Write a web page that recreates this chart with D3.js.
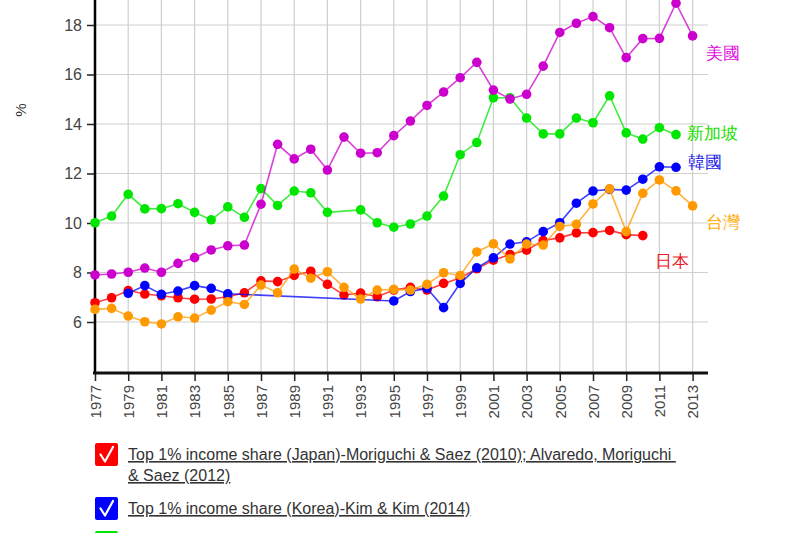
<!DOCTYPE html>
<html><head><meta charset="utf-8">
<script src="https://cdn.jsdelivr.net/npm/d3@7"></script>
<style>
body{margin:0;background:#fff;overflow:hidden;}
text{font-family:"Liberation Sans",Arial,sans-serif;}
</style>
</head><body>
<svg id="chart" width="800" height="533"></svg>
<script>
// ---- data ----
const yearsJapan = d3.range(1977, 2011);
const japan = [6.78,6.98,7.27,7.13,7.06,6.98,6.92,6.93,7.02,7.18,7.66,7.63,7.88,8.05,7.52,7.09,7.17,7.02,7.29,7.40,7.29,7.56,7.78,8.15,8.50,8.73,8.90,9.29,9.40,9.60,9.61,9.70,9.53,9.49];
const yearsKorea = d3.range(1977, 2013);
const korea = [null,null,7.16,7.47,7.12,7.25,7.47,7.36,7.14,null,null,null,null,null,null,null,null,null,6.85,7.23,7.36,6.58,7.56,8.19,8.59,9.15,9.24,9.65,10.01,10.80,11.29,11.36,11.33,11.77,12.27,12.25];
const yearsSingapore = d3.range(1977, 2013);
const singapore = [10.01,10.28,11.16,10.57,10.58,10.78,10.43,10.13,10.65,10.23,11.39,10.71,11.29,11.22,10.43,null,10.53,10.01,9.83,9.96,10.28,11.09,12.76,13.25,15.06,15.06,14.24,13.60,13.60,14.24,14.05,15.14,13.64,13.39,13.85,13.57];
const yearsUS = d3.range(1977, 2014);
const us = [7.90,7.94,8.01,8.18,8.01,8.37,8.60,8.91,9.08,9.11,10.76,13.18,12.59,12.98,12.14,13.47,12.82,12.84,13.53,14.12,14.75,15.29,15.87,16.49,15.37,15.01,15.20,16.34,17.70,18.07,18.34,17.89,16.68,17.45,17.46,18.88,17.56];
const yearsTaiwan = d3.range(1977, 2014);
const taiwan = [6.51,6.55,6.24,6.01,5.92,6.21,6.16,6.48,6.82,6.71,7.49,7.18,8.14,7.77,8.03,7.40,6.93,7.29,7.32,7.29,7.52,7.99,7.88,8.83,9.16,8.55,9.15,9.11,9.86,9.95,10.77,11.38,9.65,11.20,11.74,11.30,10.69];

const seriesNames = ["日本","韓國","新加坡","美國","台灣"];
const legendTexts = [
  ["Top 1% income share (Japan)-Moriguchi & Saez (2010); Alvaredo, Moriguchi ", "& Saez (2012)"],
  ["Top 1% income share (Korea)-Kim & Kim (2014)"],
  []
];
const xTickYears = d3.range(1977, 2014, 2);
const yTickValues = [6, 8, 10, 12, 14, 16, 18];

// ---- layout / style ----
const colors = ["#ff0000", "#0000ff", "#00e600", "#cc00cc", "#ff9900"];
const labelColors = ["#e8202a", "#1a1ae6", "#22dd00", "#dd11dd", "#ffaa00"];
const labelOffsets = [[12, 25], [12, -5], [11, -2], [13, 17], [13, 16]];

const svg = d3.select("#chart");
const x = d3.scaleLinear().domain([1977, 2013]).range([95, 692.6]);
const y = d3.scaleLinear().domain([6, 18]).range([322, 25]);
const plotLeft = 95, plotRight = 708, plotBottom = 373, plotTop = 0;

// grid
const grid = svg.append("g");
grid.selectAll("line.v").data(xTickYears.slice(1)).join("line")
  .attr("x1", d => x(d)).attr("x2", d => x(d))
  .attr("y1", plotTop).attr("y2", plotBottom)
  .attr("stroke", "#cfcfcf").attr("stroke-width", 1.2);
grid.selectAll("line.h").data(yTickValues).join("line")
  .attr("x1", plotLeft).attr("x2", plotRight)
  .attr("y1", d => y(d)).attr("y2", d => y(d))
  .attr("stroke", "#cfcfcf").attr("stroke-width", 1.2);

// axes
const yAxis = d3.axisLeft(y).tickValues(yTickValues).tickSize(8).tickPadding(5).tickSizeOuter(0);
const gy = svg.append("g").attr("transform", `translate(${plotLeft},0)`).call(yAxis);
gy.select(".domain").remove();
gy.selectAll(".tick line").attr("stroke", "#222").attr("stroke-width", 1.5);
gy.selectAll(".tick text").attr("font-size", 16).attr("fill", "#444")
  .attr("font-family", "'Liberation Sans',Arial,sans-serif");
svg.append("line").attr("x1", plotLeft).attr("x2", plotLeft).attr("y1", plotTop).attr("y2", plotBottom + 1)
  .attr("stroke", "#000").attr("stroke-width", 2.5);

const xAxis = d3.axisBottom(x).tickValues(xTickYears).tickFormat(d3.format("d")).tickSize(8).tickSizeOuter(0);
const gx = svg.append("g").attr("transform", `translate(0,${plotBottom})`).call(xAxis);
gx.select(".domain").remove();
gx.selectAll(".tick line").attr("stroke", "#222").attr("stroke-width", 1.5);
gx.selectAll(".tick text").attr("font-size", 15).attr("fill", "#444")
  .attr("font-family", "'Liberation Sans',Arial,sans-serif")
  .attr("text-anchor", "end").attr("dy", "0.35em")
  .attr("transform", "translate(0,12) rotate(-90)").attr("x", 0).attr("y", 0);
svg.append("line").attr("x1", plotLeft - 2).attr("x2", plotRight).attr("y1", plotBottom).attr("y2", plotBottom)
  .attr("stroke", "#111").attr("stroke-width", 3);

// y label
svg.append("text").attr("transform", "translate(21,110) rotate(-90)")
  .attr("text-anchor", "middle").attr("dy", "0.35em").attr("font-size", 15).attr("fill", "#333").text("%");

// series
const allSeries = [
  {years: yearsJapan, values: japan},
  {years: yearsKorea, values: korea},
  {years: yearsSingapore, values: singapore},
  {years: yearsUS, values: us},
  {years: yearsTaiwan, values: taiwan}
];
const line = d3.line().x(d => x(d[0])).y(d => y(d[1]));
allSeries.forEach((s, i) => {
  const pts = s.years.map((yr, j) => [yr, s.values[j]]).filter(d => d[1] != null);
  const g = svg.append("g");
  g.append("path").datum(pts).attr("d", line).attr("fill", "none")
    .attr("stroke", colors[i]).attr("stroke-width", 1.6).attr("stroke-opacity", 0.75);
  g.selectAll("circle").data(pts).join("circle")
    .attr("cx", d => x(d[0])).attr("cy", d => y(d[1])).attr("r", 4.8)
    .attr("fill", colors[i]);
  const last = pts[pts.length - 1];
  g.append("text").attr("x", x(last[0]) + labelOffsets[i][0]).attr("y", y(last[1]) + labelOffsets[i][1])
    .attr("dy", "0.35em").attr("font-size", 17)
    .attr("font-family", "'Noto Sans CJK TC','Noto Sans CJK SC',sans-serif")
    .attr("fill", labelColors[i]).text(seriesNames[i]);
});

// legend
const legendTop = [443, 497, 531];
legendTexts.forEach((lines, i) => {
  const g = svg.append("g").attr("transform", `translate(95,${legendTop[i]})`);
  g.append("rect").attr("width", 23).attr("height", 23).attr("rx", 2).attr("fill", colors[i]);
  g.append("path").attr("d", "M5.5,11.5 L10,18.5 L18,4").attr("fill", "none")
    .attr("stroke", "#fff").attr("stroke-width", 2.2).attr("stroke-linecap", "round").attr("stroke-linejoin", "round");
  lines.forEach((t, k) => {
    g.append("text").attr("x", 33).attr("y", 17 + k * 21).attr("font-size", 16).attr("fill", "#333")
      .style("text-decoration", "underline").attr("xml:space", "preserve").text(t);
  });
});
</script>
</body></html>
